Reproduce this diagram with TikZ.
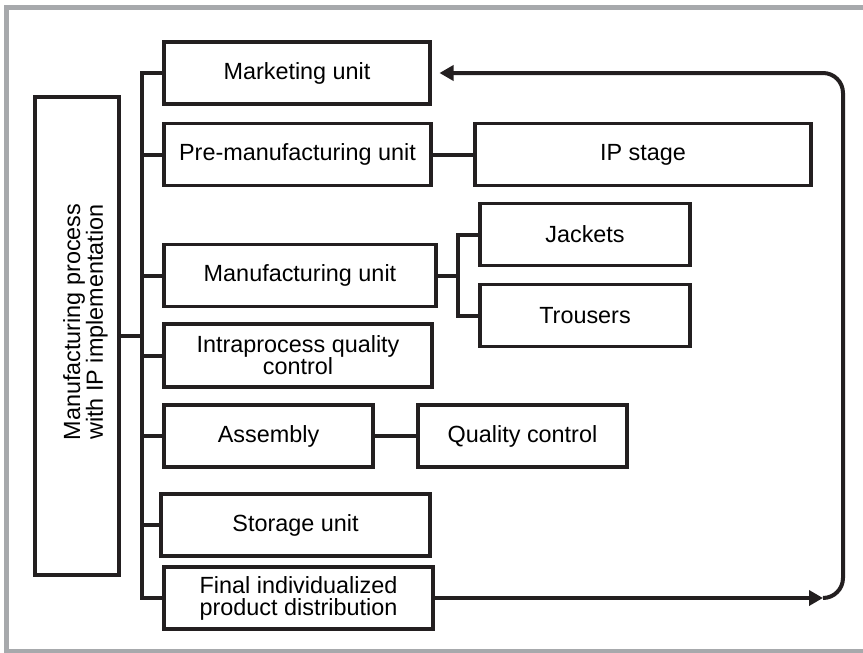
\documentclass[tikz,border=0pt]{standalone}
\usepackage{fontspec}
\setmainfont{Liberation Sans}
\usetikzlibrary{arrows.meta,positioning}
\definecolor{ink}{RGB}{35,31,32}
\definecolor{framegray}{RGB}{167,169,172}

\begin{document}
\begin{tikzpicture}[x=1pt,y=-1pt,
  unit/.style={rectangle,draw=ink,line width=3.6pt,minimum height=62.2pt,
    inner sep=0pt,align=center,font=\fontsize{23.4}{22}\selectfont},
  unitlabel/.style={align=center,font=\fontsize{23.4}{21}\selectfont},
  wire/.style={draw=ink,line width=4pt},
  tip/.style={-{Triangle[length=14pt,width=15pt]}}]
  \clip (0,0) rectangle (863,653);
  \draw[framegray,line width=5pt] (6.5,7.5) rectangle (900,651);

  \node[unit,minimum width=84.4pt,minimum height=478.4pt] (main) at (77,336) {};
  \node[unitlabel,rotate=90] (mainlabel) at (85.5,322) {Manufacturing process\\with IP implementation};

  \node[unit,minimum width=266.4pt] (mkt)      at (297,73)      {Marketing unit};
  \node[unit,minimum width=267.4pt] (pre)      at (297.5,154.5) {Pre-manufacturing unit};
  \node[unit,minimum width=336.4pt] (ip)       at (643,154.5)   {IP stage};
  \node[unit,minimum width=272.4pt] (manuf)    at (300,275.5)   {Manufacturing unit};
  \node[unit,minimum width=210.4pt] (jackets)  at (585,234.5)   {Jackets};
  \node[unit,minimum width=210.4pt] (trousers) at (585,315.5)   {Trousers};
  \node[unit,minimum width=268.4pt,minimum height=63.4pt] (intra) at (298,355.5) {Intraprocess quality\\control};
  \node[unit,minimum width=209.4pt] (asm)      at (268.5,436)   {Assembly};
  \node[unit,minimum width=209.4pt] (qc)       at (522.5,436)   {Quality control};
  \node[unit,minimum width=269.4pt] (storage)  at (295.5,525)   {Storage unit};
  \node[unit,minimum width=269.4pt] (final)    at (298.5,598)   {Final individualized\\product distribution};

  \coordinate (bus)  at (141.5,0);
  \coordinate (fork) at (458,0);
  \coordinate (ret)  at (823,598);
  \coordinate (rise) at (843,0);

  % main bus
  \draw[wire] (mkt.west) -- (mkt.west -| bus) -- (final.west -| bus) -- (final.west);
  \foreach \n in {pre,manuf,intra,asm,storage}
    \draw[wire] (\n.west) -- (\n.west -| bus);
  \draw[wire] (main.east) -- (main.east -| bus);

  % side branches
  \path[wire]
  (pre) edge (ip)
  (asm) edge (qc);
  \draw[wire] (manuf.east) -- (manuf.east -| fork);
  \draw[wire] (jackets.west) -- (jackets.west -| fork) -- (trousers.west -| fork) -- (trousers.west);

  % return loop
  \draw[wire,tip] (final.east) -- (ret);
  \draw[wire,tip,rounded corners=20pt,shorten >=7.5pt] (ret) -| (mkt.east -| rise) -- (mkt.east);
\end{tikzpicture}
\end{document}
